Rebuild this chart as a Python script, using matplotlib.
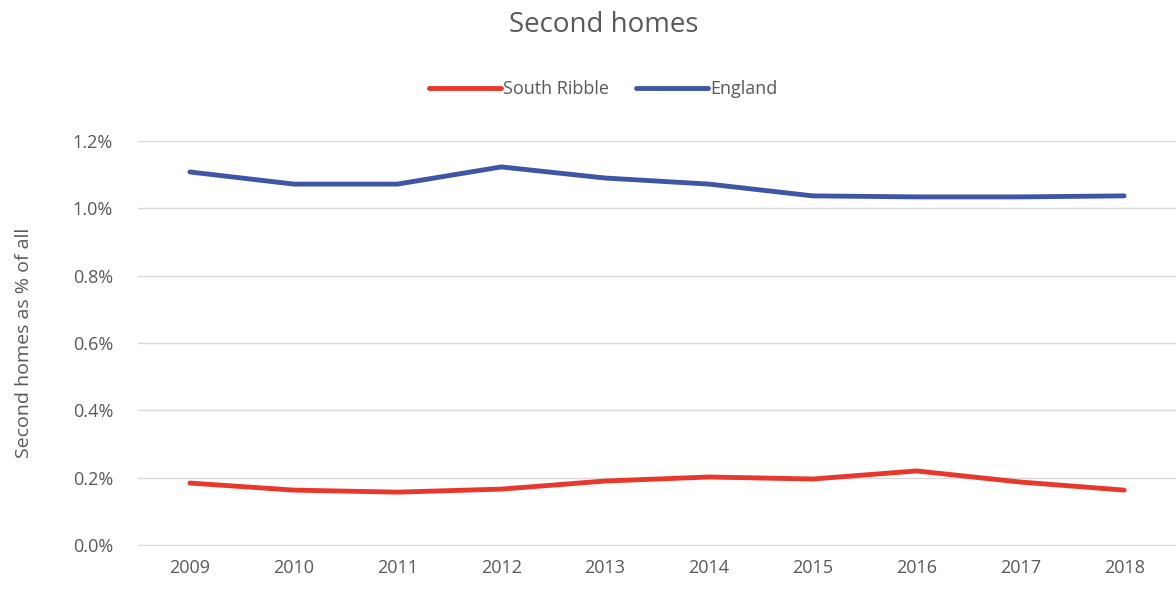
import matplotlib.pyplot as plt
from matplotlib.ticker import FuncFormatter

years = ["2009", "2010", "2011", "2012", "2013", "2014", "2015", "2016", "2017", "2018"]
south_ribble = [0.184, 0.163, 0.157, 0.166, 0.190, 0.202, 0.196, 0.220, 0.187, 0.163]
england = [1.108, 1.072, 1.072, 1.123, 1.090, 1.072, 1.037, 1.034, 1.034, 1.037]

plt.rcParams['font.family'] = ['Open Sans', 'DejaVu Sans']
grey = "#595959"

fig = plt.figure(figsize=(11.76, 5.9), dpi=100)
ax = fig.add_axes([138 / 1176, 45 / 590, 1 - 138 / 1176, 404 / 590])

x = list(range(len(years)))
ax.plot(x, south_ribble, color="#E8382B", linewidth=3.5, label="South Ribble", solid_capstyle="round")
ax.plot(x, england, color="#3F56A6", linewidth=3.5, label="England", solid_capstyle="round")

ax.set_xlim(-0.5, len(years) - 0.5)
ax.set_ylim(0, 1.2)
ax.set_yticks([0, 0.2, 0.4, 0.6, 0.8, 1.0, 1.2])
ax.yaxis.set_major_formatter(FuncFormatter(lambda v, p: f"{v:.1f}%"))
ax.set_xticks(x)
ax.set_xticklabels(years)
ax.grid(axis="y", color="#d9d9d9", linewidth=1)
ax.set_axisbelow(True)
for s in ["top", "right", "left"]:
    ax.spines[s].set_visible(False)
ax.spines["bottom"].set_color("#d9d9d9")
ax.tick_params(axis="both", length=0, labelsize=13, labelcolor=grey, pad=10)
ax.tick_params(axis="y", pad=18)
ax.set_ylabel("Second homes as % of all", fontsize=14, color=grey)
ax.yaxis.set_label_coords(-0.101, 0.5)

fig.text(0.513, 0.957, "Second homes", ha="center", va="center", fontsize=20, color=grey)
fig.legend(loc="center", bbox_to_anchor=(0.513, 0.849), ncol=2, frameon=False,
           fontsize=13, labelcolor=grey, handlelength=4, handletextpad=0.1, columnspacing=1.5)

fig.savefig("out.png", dpi=100)
